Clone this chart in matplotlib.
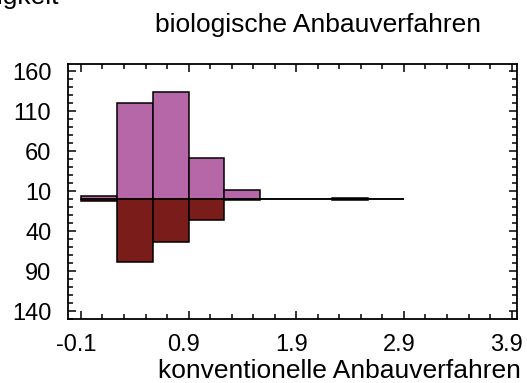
import matplotlib
matplotlib.use("Agg")
import matplotlib.pyplot as plt
from matplotlib.ticker import MultipleLocator, FixedLocator
from matplotlib.transforms import ScaledTranslation
import numpy as np

# histogram bins (width 1/3), counts
bin_edges = [-0.1 + k / 3 for k in range(10)]
bio_counts = [4, 120, 134, 51, 12, 0, 0, 1, 0]
konv_counts = [3, 79, 54, 26, 1, 0, 0, 1, 0]

xticks = [-0.1, 0.9, 1.9, 2.9, 3.9]
xtick_labels = ["-0.1", "0.9", "1.9", "2.9", "3.9"]
yticks = [160, 110, 60, 10, -40, -90, -140]
ytick_labels = ["160", "110", "60", "10", "40", "90", "140"]

plt.rcParams['font.family'] = ['Liberation Sans', 'DejaVu Sans']

fig = plt.figure(figsize=(5.27, 3.83), dpi=100)
ax = fig.add_axes([0.129, 0.167, 0.852, 0.666])

left = np.array(bin_edges[:-1])
width = np.diff(bin_edges)
ax.bar(left, bio_counts, width=width, align='edge', color='#B567A8',
       edgecolor='black', linewidth=1.1)
ax.bar(left, -np.array(konv_counts), width=width, align='edge', color='#7A1C19',
       edgecolor='black', linewidth=1.1)

ax.set_xlim(-0.22, 3.95)
ax.set_ylim(-150, 169)

ax.xaxis.set_major_locator(FixedLocator(xticks))
ax.set_xticklabels(xtick_labels)
ax.xaxis.set_minor_locator(FixedLocator(np.arange(-0.1, 4.0, 0.2)))
ax.yaxis.set_major_locator(FixedLocator(yticks))
ax.set_yticklabels(ytick_labels)
ax.yaxis.set_minor_locator(MultipleLocator(10))

ax.tick_params(which='both', direction='in', top=True, right=True, width=1.1)
ax.tick_params(which='major', length=6)
ax.tick_params(which='minor', length=3.5)
ax.tick_params(axis='x', labelsize=17, pad=11)
ax.tick_params(axis='y', labelsize=17, pad=12)
for s in ax.spines.values():
    s.set_linewidth(1.3)

# x labels sit a little left of their ticks in the original
shift = ScaledTranslation(-5 / 100, 0, fig.dpi_scale_trans)
for lab in ax.get_xticklabels():
    lab.set_transform(lab.get_transform() + shift)

fig.text(155 / 527, 1 - 32 / 383, "biologische Anbauverfahren", fontsize=19,
         ha='left', va='baseline')
fig.text(521 / 527, 1 - 378 / 383, "konventionelle Anbauverfahren", fontsize=19,
         ha='right', va='baseline')
fig.text(59 / 527, 1 - 4 / 383, "Häufigkeit", fontsize=19,
         ha='right', va='baseline')

fig.savefig("out.png", dpi=100)
